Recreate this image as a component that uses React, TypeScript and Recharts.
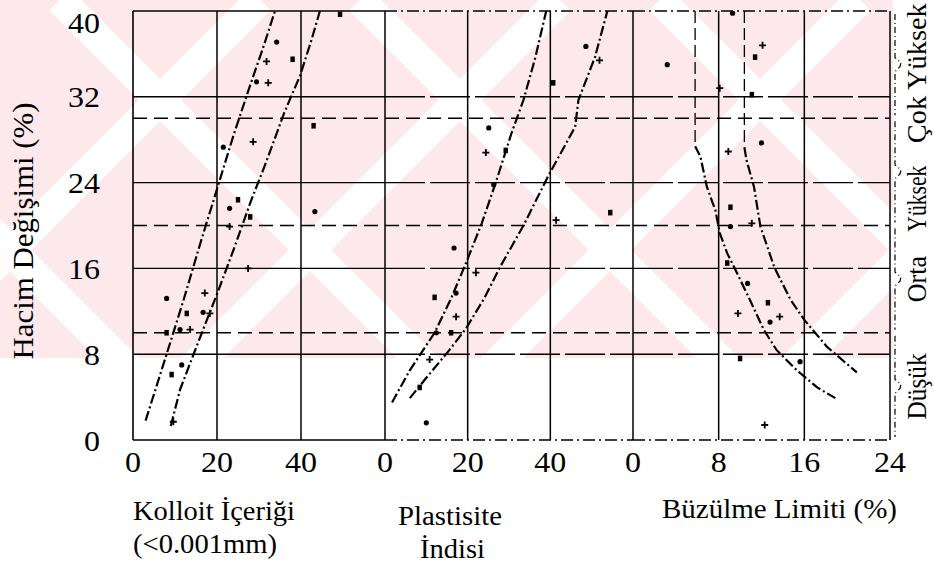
import React from 'react';
import { ComposedChart, Line, Scatter, XAxis, YAxis, ReferenceLine } from 'recharts';

type Pt = { x: number; y: number };

// shared y axis: volume change (%)
const volumeTicks = [0, 8, 16, 24, 32, 40];
const gridLevels = [8, 16, 24, 32];
const classLimits = [10, 20, 30];
const classes = [
  { name: 'Düşük', from: 0, to: 10, at: 5 },
  { name: 'Orta', from: 10, to: 20, at: 15 },
  { name: 'Yüksek', from: 20, to: 30, at: 22.5 },
  { name: 'Çok Yüksek', from: 30, to: 40, at: 34.2 },
];

// panel 1: colloid content (<0.001mm)
const colloidTicks = [0, 20, 40];
const colloidUpper: Pt[] = [
  { x: 3, y: 1.8 }, { x: 8, y: 8 }, { x: 12, y: 13 }, { x: 16, y: 18.3 }, { x: 20, y: 23.4 },
  { x: 24, y: 28.5 }, { x: 28, y: 33.2 }, { x: 31, y: 36.6 }, { x: 33.8, y: 40 },
];
const colloidLower: Pt[] = [
  { x: 9, y: 1.3 }, { x: 11.2, y: 4.7 }, { x: 16, y: 9.6 }, { x: 20, y: 13.6 }, { x: 24, y: 17.8 },
  { x: 28, y: 22.2 }, { x: 31.4, y: 25.6 }, { x: 36, y: 30.5 }, { x: 39.8, y: 34 }, { x: 42.5, y: 37.3 },
  { x: 44.5, y: 40 },
];
const colloidPoints: Pt[] = [
  { x: 34.2, y: 37.1 }, { x: 31.8, y: 35.3 }, { x: 38, y: 35.5 }, { x: 29.4, y: 33.4 }, { x: 32.2, y: 33.3 },
  { x: 43, y: 29.3 }, { x: 21.5, y: 27.3 }, { x: 28.6, y: 27.8 }, { x: 25, y: 22.4 }, { x: 23, y: 21.6 },
  { x: 23, y: 19.9 }, { x: 27.9, y: 20.8 }, { x: 43.3, y: 21.3 }, { x: 27.4, y: 16 }, { x: 49.3, y: 39.7 },
  { x: 8, y: 13.2 }, { x: 17.1, y: 13.7 }, { x: 12.8, y: 11.8 }, { x: 16.7, y: 11.9 }, { x: 18.3, y: 11.8 },
  { x: 8, y: 10 }, { x: 11.2, y: 10.3 }, { x: 13.6, y: 10.3 }, { x: 9.2, y: 6.1 }, { x: 11.6, y: 7 },
  { x: 9.6, y: 1.7 },
];

// panel 2: plasticity index
const plasticTicks = [0, 20, 40];
const plasticUpper: Pt[] = [
  { x: 1.7, y: 3.5 }, { x: 6, y: 6.5 }, { x: 12, y: 10 }, { x: 16, y: 13.2 }, { x: 19.6, y: 16.5 },
  { x: 23.4, y: 20.2 }, { x: 26.8, y: 24 }, { x: 30.6, y: 28.6 }, { x: 33.5, y: 31.7 }, { x: 36.4, y: 35.7 },
  { x: 39, y: 40 },
];
const plasticLower: Pt[] = [
  { x: 6, y: 3.9 }, { x: 10, y: 5.8 }, { x: 15.6, y: 8.4 }, { x: 19.6, y: 10.4 }, { x: 24, y: 13.2 },
  { x: 27.8, y: 16.1 }, { x: 33.5, y: 20 }, { x: 39.6, y: 24.7 }, { x: 46, y: 29.2 }, { x: 46.8, y: 31.7 },
  { x: 50.8, y: 35.7 }, { x: 53.8, y: 40 },
];
const plasticPoints: Pt[] = [
  { x: 48.6, y: 36.7 }, { x: 51.9, y: 35.4 }, { x: 40.7, y: 33.3 }, { x: 25.1, y: 29.1 }, { x: 24.4, y: 26.8 },
  { x: 29.2, y: 27 }, { x: 26.3, y: 23.8 }, { x: 41.4, y: 20.5 }, { x: 54.5, y: 21.2 }, { x: 16.7, y: 17.9 },
  { x: 22, y: 15.6 }, { x: 12, y: 13.3 }, { x: 17.2, y: 13.7 }, { x: 17.2, y: 11.5 }, { x: 16, y: 10 },
  { x: 12.4, y: 10 }, { x: 10.8, y: 7.5 }, { x: 8.4, y: 4.9 }, { x: 10, y: 1.6 },
];

// panel 3: shrinkage limit (%)
const shrinkTicks = [0, 8, 16, 24];
const shrinkLeftStem: Pt[] = [{ x: 5.8, y: 40 }, { x: 5.8, y: 27.4 }];
const shrinkLeft: Pt[] = [
  { x: 5.8, y: 27.4 }, { x: 6.3, y: 26.4 }, { x: 6.9, y: 23.6 }, { x: 7.7, y: 21.4 },
  { x: 8.1, y: 19.3 }, { x: 8.8, y: 17.4 }, { x: 9.7, y: 15.6 }, { x: 10.9, y: 13.1 }, { x: 12.2, y: 10.3 },
  { x: 13.4, y: 8.4 }, { x: 15.3, y: 6.5 }, { x: 17.2, y: 4.9 }, { x: 18.9, y: 3.9 },
];
const shrinkRightStem: Pt[] = [{ x: 10.4, y: 40 }, { x: 10.4, y: 27.3 }];
const shrinkRight: Pt[] = [
  { x: 10.4, y: 27.3 }, { x: 10.6, y: 26.1 }, { x: 11.3, y: 23.6 }, { x: 11.9, y: 19.9 },
  { x: 13.2, y: 16.1 }, { x: 14.7, y: 13.1 }, { x: 16, y: 11.2 }, { x: 18.1, y: 8.7 }, { x: 20.9, y: 6.3 },
];
const shrinkPoints: Pt[] = [
  { x: 9.3, y: 39.8 }, { x: 12.1, y: 36.8 }, { x: 11.4, y: 35.7 }, { x: 3.2, y: 35 }, { x: 8.1, y: 32.8 },
  { x: 11.1, y: 32.2 }, { x: 12, y: 27.7 }, { x: 8.9, y: 26.9 }, { x: 9.1, y: 21.7 }, { x: 9.1, y: 19.9 },
  { x: 11.1, y: 20.2 }, { x: 8.8, y: 16.5 }, { x: 10.7, y: 14.6 }, { x: 9.8, y: 11.8 }, { x: 12.6, y: 12.8 },
  { x: 12.8, y: 11 }, { x: 13.7, y: 11.5 }, { x: 10, y: 7.6 }, { x: 15.6, y: 7.3 }, { x: 12.3, y: 1.4 },
];

const PLOT_TOP = 11;
const PLOT_BOTTOM = 440;
const AXIS_H = 50;
const CHART_H = PLOT_BOTTOM + AXIS_H + 10;
const SIDE = 18;
const serif = 'Liberation Serif, Tinos, Times New Roman, Times, Noto Serif, DejaVu Serif, serif';
const DIGIT_W = 16;
const yPx = (v: number) => PLOT_BOTTOM - (v / 40) * (PLOT_BOTTOM - PLOT_TOP);

// scanned marks: a mix of dots, plus signs and small blobs
const Marker = (props: any) => {
  const { cx, cy, index = 0 } = props;
  if (cx == null || cy == null) return null;
  const kind = index % 3;
  if (kind === 1) {
    return (
      <path d={`M${cx - 3.5} ${cy}H${cx + 3.5}M${cx} ${cy - 3.5}V${cy + 3.5}`} stroke="#000" strokeWidth={1.8} />
    );
  }
  if (kind === 2) return <rect x={cx - 2.2} y={cy - 2.8} width={4.4} height={5.6} fill="#000" />;
  return <circle cx={cx} cy={cy} r={2.6} fill="#000" />;
};

const XTick = (props: any) => {
  const { x, y, payload } = props;
  const label = String(payload.value);
  return (
    <text x={x} y={y + 24} textAnchor="middle" fill="#000" fontSize={30} style={{ fontFamily: serif }}
      textLength={label.length * DIGIT_W} lengthAdjust="spacingAndGlyphs">
      {label}
    </text>
  );
};

// y tick that keeps the top label inside the picture
const YTick = (props: any) => {
  const { x, y, payload } = props;
  const label = String(payload.value);
  return (
    <text x={x} y={Math.max(y, 22)} dy="0.355em" textAnchor="end" fill="#000" fontSize={30} style={{ fontFamily: serif }}
      textLength={label.length * DIGIT_W} lengthAdjust="spacingAndGlyphs">
      {label}
    </text>
  );
};

interface PanelProps {
  plotLeft: number;
  plotRight: number;
  domain: [number, number];
  ticks: number[];
  curves: Pt[][];
  stems?: Pt[][];
  points: Pt[];
  first?: boolean;
}

const Panel = ({ plotLeft, plotRight, domain, ticks, curves, stems = [], points, first }: PanelProps) => {
  const left = first ? 0 : plotLeft - SIDE;
  const width = plotRight - left + SIDE;
  const edge = first ? undefined : '12 4 2 4';
  const verticals = first ? ticks.filter((t) => t > domain[0]) : ticks;
  return (
    <div style={{ position: 'absolute', left, top: 0 }}>
      <ComposedChart
        width={width}
        height={CHART_H}
        margin={{ top: PLOT_TOP, right: SIDE, bottom: 10, left: first ? 0 : SIDE }}
      >
        <XAxis
          type="number"
          dataKey="x"
          domain={domain}
          ticks={ticks}
          interval={0}
          allowDataOverflow
          height={AXIS_H}
          tickSize={0}
          tickMargin={8}
          tickLine={false}
          axisLine={{ stroke: '#000', strokeWidth: 1.6, strokeDasharray: edge }}
          tick={<XTick />}
        />
        <YAxis
          type="number"
          dataKey="y"
          domain={[0, 40]}
          ticks={volumeTicks}
          interval={0}
          allowDataOverflow
          hide={!first}
          width={first ? plotLeft : 0}
          tickSize={0}
          tickMargin={33}
          tickLine={false}
          axisLine={{ stroke: '#000', strokeWidth: 1.6 }}
          tick={<YTick />}
        />
        {gridLevels.map((v) => (
          <ReferenceLine key={'g' + v} y={v} stroke="#000" strokeWidth={1.4} strokeDasharray={first ? undefined : '40 5'} />
        ))}
        {classLimits.map((v) => (
          <ReferenceLine key={'c' + v} y={v} stroke="#000" strokeWidth={1.4} strokeDasharray="14 7" />
        ))}
        <ReferenceLine y={40} stroke="#000" strokeWidth={1.6} strokeDasharray={edge} />
        {verticals.map((v) => (
          <ReferenceLine key={'v' + v} x={v} stroke="#000" strokeWidth={1.5} />
        ))}
        {stems.map((c, i) => (
          <Line
            key={'s' + i}
            data={c}
            dataKey="y"
            type="linear"
            stroke="#000"
            strokeWidth={1.3}
            strokeDasharray="12 5"
            dot={false}
            isAnimationActive={false}
          />
        ))}
        {curves.map((c, i) => (
          <Line
            key={i}
            data={c}
            dataKey="y"
            type="linear"
            stroke="#000"
            strokeWidth={2.2}
            strokeDasharray="10 3 2 3"
            dot={false}
            isAnimationActive={false}
          />
        ))}
        <Scatter data={points} dataKey="y" shape={<Marker />} isAnimationActive={false} />
      </ComposedChart>
    </div>
  );
};

// faint diagonal watermark behind the upper part of the scan
const Watermark = () => {
  const bands: React.ReactNode[] = [];
  for (let k = -3; k <= 4; k++) {
    const c = 60 + 300 * k;
    const d = 560 + 300 * k;
    bands.push(<line key={'a' + k} x1={c} y1={0} x2={c + 420} y2={420} />);
    bands.push(<line key={'b' + k} x1={d} y1={0} x2={d - 420} y2={420} />);
  }
  return (
    <svg width={934} height={564} style={{ position: 'absolute', left: 0, top: 0 }}>
      <defs>
        <clipPath id="wm">
          <rect x={0} y={0} width={893} height={358} />
        </clipPath>
      </defs>
      <g clipPath="url(#wm)">
        <rect x={0} y={0} width={893} height={358} fill="#fde9ec" />
        <g stroke="#fff" strokeWidth={30}>{bands}</g>
      </g>
    </svg>
  );
};

const Labels = () => (
  <svg width={934} height={564} style={{ position: 'absolute', left: 0, top: 0, pointerEvents: 'none', fontFamily: serif }}>
    <g fill="#000" style={{ fontFamily: serif }}>
      <text transform="translate(33,231) rotate(-90)" textAnchor="middle" fontSize={30} textLength={257} lengthAdjust="spacingAndGlyphs">
        Hacim Değişimi (%)
      </text>
      <text x={133} y={520} fontSize={28} textLength={162} lengthAdjust="spacingAndGlyphs">Kolloit İçeriği</text>
      <text x={133} y={553} fontSize={28} textLength={144} lengthAdjust="spacingAndGlyphs">(&lt;0.001mm)</text>
      <text x={398} y={525} fontSize={28} textLength={104} lengthAdjust="spacingAndGlyphs">Plastisite</text>
      <text x={420} y={558} fontSize={28} textLength={65} lengthAdjust="spacingAndGlyphs">İndisi</text>
      <text x={662} y={518} fontSize={28} textLength={235} lengthAdjust="spacingAndGlyphs">Büzülme Limiti (%)</text>
      {classes.map((c) => {
        const top = yPx(c.to);
        const bottom = yPx(c.from);
        const mid = (top + bottom) / 2;
        const len = c.name === 'Çok Yüksek' ? 140 : c.name === 'Orta' ? 46 : 66;
        return (
          <g key={c.name}>
            <path
              d={`M895 ${top + 3} V${mid - 7} L901 ${mid - 2} L900 ${mid + 2} L895 ${mid + 7} V${bottom - 3}`}
              fill="none"
              stroke="#000"
              strokeWidth={1.2}
              strokeDasharray="6 3 1 3"
            />
            <text transform={`translate(926,${yPx(c.at)}) rotate(-90)`} textAnchor="middle" fontSize={27}
              textLength={len} lengthAdjust="spacingAndGlyphs">
              {c.name}
            </text>
          </g>
        );
      })}
    </g>
  </svg>
);

export default function App() {
  return (
    <div style={{ position: 'absolute', left: 0, top: 0, width: 934, height: 564, background: '#fff', fontFamily: serif }}>
      <Watermark />
      <Panel plotLeft={133} plotRight={385} domain={[0, 60]} ticks={colloidTicks} curves={[colloidUpper, colloidLower]} points={colloidPoints} first />
      <Panel plotLeft={385} plotRight={633} domain={[0, 60]} ticks={plasticTicks} curves={[plasticUpper, plasticLower]} points={plasticPoints} />
      <Panel
        plotLeft={633}
        plotRight={890}
        domain={[0, 24]}
        ticks={shrinkTicks}
        curves={[shrinkLeft, shrinkRight]}
        stems={[shrinkLeftStem, shrinkRightStem]}
        points={shrinkPoints}
      />
      <Labels />
    </div>
  );
}
